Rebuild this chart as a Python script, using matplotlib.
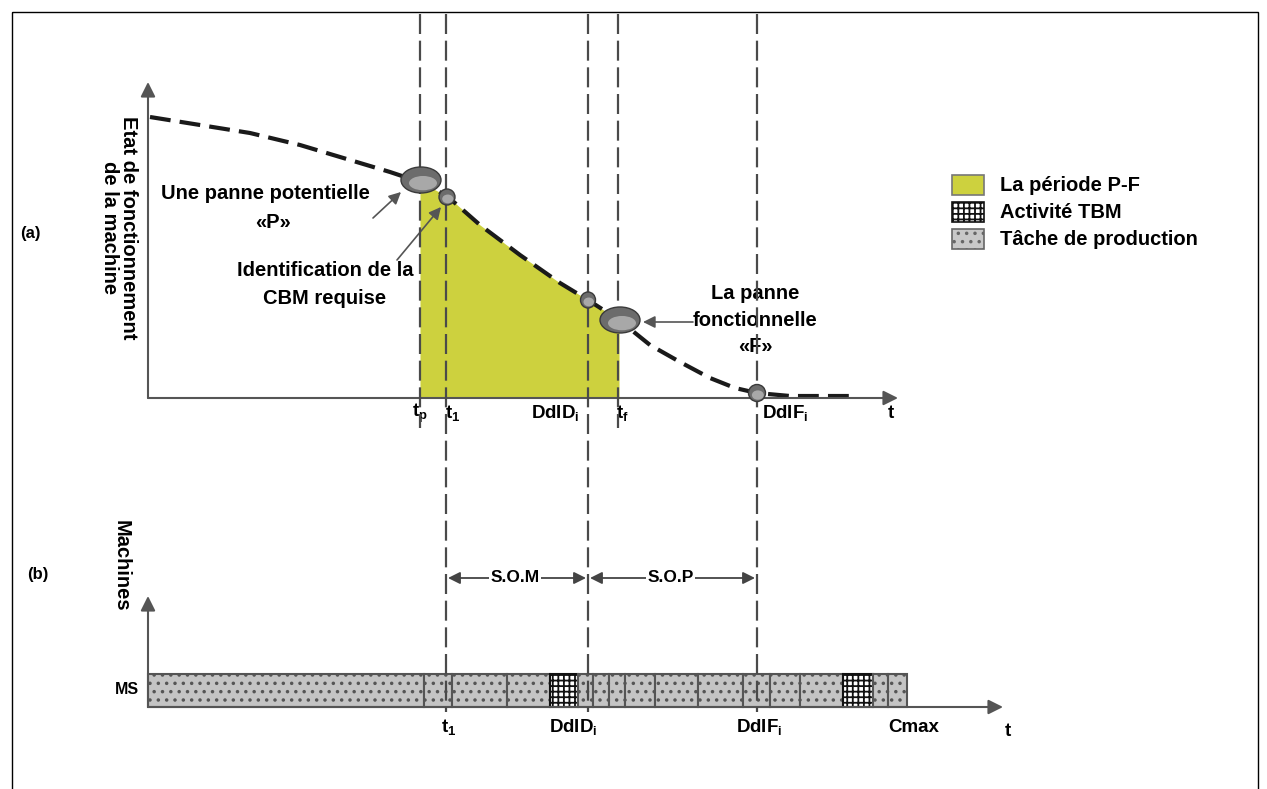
import matplotlib
matplotlib.use("Agg")
import matplotlib.pyplot as plt
from matplotlib.patches import Rectangle, Ellipse

plt.rcParams['font.family'] = ['Liberation Sans', 'DejaVu Sans']
plt.rcParams['mathtext.fontset'] = 'custom'
plt.rcParams['mathtext.rm'] = 'Liberation Sans:bold'
plt.rcParams['mathtext.it'] = 'Liberation Sans:bold'
plt.rcParams['mathtext.bf'] = 'Liberation Sans:bold'
plt.rcParams['mathtext.default'] = 'rm'
plt.rcParams['hatch.linewidth'] = 1.3

# machine health curve (diagram units = pixels)
curve_x = [150, 200, 250, 300, 350, 390, 420, 447, 480, 520, 560, 588, 619, 650, 680, 710, 735, 757, 790, 850]
curve_y = [117, 125, 133, 145, 160, 172, 182, 196, 225, 255, 283, 300, 320, 345, 362, 378, 388, 393, 396, 396]

# key instants
events = ['tp', 't1', 'DdID', 'tf', 'DdIF']
event_x = [420, 446, 588, 618, 757]
event_bottom = [428, 712, 712, 428, 712]
pf_start, pf_end = 420, 619

# production schedule on machine MS
seg_edges = [148, 424, 452, 507, 550, 578, 593, 609, 625, 655, 698, 743, 770, 800, 843, 873, 888, 907]
seg_kind = ['prod', 'prod', 'prod', 'prod', 'tbm', 'prod', 'prod', 'prod', 'prod', 'prod',
            'prod', 'prod', 'prod', 'prod', 'tbm', 'prod', 'prod']

legend_labels = ['La période P-F', 'Activité TBM', 'Tâche de production']

yellow = '#cdd13e'
axis_col = '#555555'
dash_col = '#4a4a4a'

fig = plt.figure(figsize=(12.67, 7.89), dpi=100)
ax = fig.add_axes([0, 0, 1, 1])
ax.set_xlim(0, 1267)
ax.set_ylim(789, 0)
ax.axis('off')

# outer frame
ax.add_patch(Rectangle((12, 12), 1246, 800, fill=False, lw=1.0, ec='black'))

def arrow(x0, y0, x1, y1, col=axis_col, lw=1.5, ms=22):
    ax.annotate('', xy=(x1, y1), xytext=(x0, y0),
                arrowprops=dict(arrowstyle='-|>', color=col, lw=lw, mutation_scale=ms,
                                shrinkA=0, shrinkB=0))

# ---------- panel (a) ----------
# P-F period fill
fx = [x for x in curve_x if pf_start <= x <= pf_end]
fy = [y for x, y in zip(curve_x, curve_y) if pf_start <= x <= pf_end]
ax.fill_between(fx, fy, 398, color=yellow, lw=0, zorder=1)

ax.plot(curve_x, curve_y, color='#1a1a1a', lw=3, linestyle=(0, (5, 2.2)), zorder=3)

arrow(148, 398, 148, 82)
arrow(148, 398, 898, 398)

# vertical dashed lines
for x, yb in zip(event_x, event_bottom):
    ax.plot([x, x], [14, yb], color=dash_col, lw=1.6, linestyle=(0, (9, 3)), zorder=4)

# event markers
def blob(x, y, w, h):
    ax.add_patch(Ellipse((x, y), w, h, fc='#6c6c6c', ec='#3a3a3a', lw=1, zorder=5))
    ax.add_patch(Ellipse((x + w * 0.05, y + h * 0.12), w * 0.7, h * 0.55, fc='#a8a8a8', lw=0, zorder=5))

blob(421, 180, 40, 26)
blob(447, 197, 16, 16)
blob(588, 300, 15, 16)
blob(620, 320, 40, 26)
blob(757, 393, 17, 17)

fs = 14.5
ax.text(265, 193, 'Une panne potentielle', ha='center', va='center', fontsize=fs, fontweight='bold')
ax.text(273, 222, '«P»', ha='center', va='center', fontsize=fs, fontweight='bold')
ax.text(325, 270, 'Identification de la', ha='center', va='center', fontsize=fs, fontweight='bold')
ax.text(325, 298, 'CBM requise', ha='center', va='center', fontsize=fs, fontweight='bold')
ax.text(755, 293, 'La panne', ha='center', va='center', fontsize=fs, fontweight='bold')
ax.text(755, 320, 'fonctionnelle', ha='center', va='center', fontsize=fs, fontweight='bold')
ax.text(755, 346, '«F»', ha='center', va='center', fontsize=fs, fontweight='bold')

arrow(373, 218, 401, 192, col='#555555', lw=1.2, ms=18)
arrow(397, 260, 441, 207, col='#555555', lw=1.2, ms=18)
arrow(693, 322, 643, 322, col='#555555', lw=1.2, ms=18)

ax.text(119, 228, 'Etat de fonctionnement\nde la machine', rotation=-90, ha='center', va='center',
        multialignment='center', fontsize=fs, fontweight='bold', linespacing=1.0)
ax.text(30, 233, '(a)', ha='center', va='center', fontsize=12, fontweight='bold')

top_ticks = [r't$_p$', r't$_1$', r'DdID$_i$', r't$_f$', r'DdIF$_i$', 't']
top_tick_x = [420, 453, 555, 622, 785, 891]
for lab, x in zip(top_ticks, top_tick_x):
    ax.text(x, 413, lab, ha='center', va='center', fontsize=13.5, fontweight='bold')

# legend
leg_y = [185, 212, 239]
leg_face = [yellow, 'white', '#c8c8c8']
leg_hatch = [None, '+++', '..']
leg_edge = ['#777777', '#111111', '#666666']
for lab, y, fc, h, ec in zip(legend_labels, leg_y, leg_face, leg_hatch, leg_edge):
    ax.add_patch(Rectangle((952, y - 10), 32, 20, fc=fc, ec=ec, hatch=h, lw=1.2))
    ax.text(1000, y, lab, ha='left', va='center', fontsize=fs, fontweight='bold')

# ---------- panel (b) ----------
arrow(148, 707, 148, 596)
arrow(148, 707, 1003, 707)

for x0, x1, kind in zip(seg_edges[:-1], seg_edges[1:], seg_kind):
    if kind == 'tbm':
        ax.add_patch(Rectangle((x0, 674), x1 - x0, 33, fc='white', ec='#111111', hatch='+++', lw=1.5, zorder=2))
    else:
        ax.add_patch(Rectangle((x0, 674), x1 - x0, 33, fc='#c4c4c4', ec='#555555', hatch='..', lw=1.5, zorder=2))

ax.text(121, 566, 'Machines', rotation=-90, ha='center', va='center', fontsize=fs, fontweight='bold')
ax.text(127, 690, 'MS', ha='center', va='center', fontsize=11.5, fontweight='bold')
ax.text(38, 575, '(b)', ha='center', va='center', fontsize=12, fontweight='bold')

# S.O.M / S.O.P spans
spans = [('S.O.M', 446, 588), ('S.O.P', 588, 757)]
for lab, x0, x1 in spans:
    ax.annotate('', xy=(x1 - 2, 578), xytext=(x0 + 2, 578),
                arrowprops=dict(arrowstyle='<|-|>', color='#444444', lw=1.3, mutation_scale=18,
                                shrinkA=0, shrinkB=0))
    ax.text((x0 + x1) / 2 - 2, 577, lab, ha='center', va='center', fontsize=12.5, fontweight='bold',
            bbox=dict(fc='white', ec='none', pad=1))

bottom_ticks = [r't$_1$', r'DdID$_i$', r'DdIF$_i$', 'Cmax', 't']
bottom_tick_x = [449, 573, 759, 914, 1008]
bottom_tick_y = [727, 727, 727, 727, 732]
for lab, x, y in zip(bottom_ticks, bottom_tick_x, bottom_tick_y):
    ax.text(x, y, lab, ha='center', va='center', fontsize=13.5, fontweight='bold')

fig.savefig('out.png', dpi=100)
